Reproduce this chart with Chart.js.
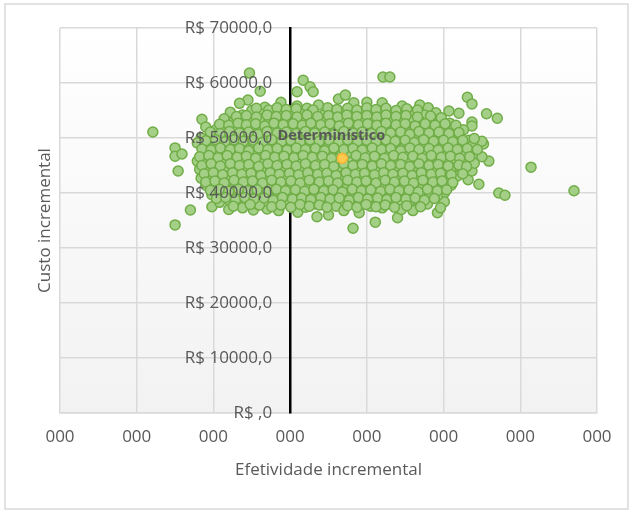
<!DOCTYPE html>
<html>
<head>
<meta charset="utf-8">
<script src="https://cdn.jsdelivr.net/npm/chart.js@4.4.1/dist/chart.umd.min.js"></script>
<style>
  html, body { margin: 0; padding: 0; background: #fff; }
  #wrap { width: 632px; height: 512px; }
</style>
</head>
<body>
<div id="wrap"><canvas id="icerChart" width="632" height="512"></canvas></div>
<script>
// Plano custo-efetividade: simulações (PSA) + resultado determinístico

const xTicks = [-3, -2, -1, 0, 1, 2, 3, 4];
const xTickLabel = '000';
const yTicks = [0, 10000, 20000, 30000, 40000, 50000, 60000, 70000];
const xTitle = 'Efetividade incremental';
const yTitle = 'Custo incremental';
const deterministicLabel = 'Determinístico';
const deterministicPoint = [0.68, 46300];

// pontos afastados da nuvem
const psaOutliers = [
  [-1.79,51100],[-1.50,48200],[-1.50,46700],[-1.41,47100],[-1.46,44000],[-1.21,45800],[-1.15,53400],
  [-1.50,34200],[-1.30,36900],[-1.02,37500],[-0.53,61800],[-0.39,58500],[-0.55,56900],[-0.78,54700],
  [0.09,58400],[0.17,60500],[0.26,59300],[0.30,58400],[1.21,61100],[1.30,61100],[2.31,57400],
  [2.37,56200],[2.07,54900],[2.20,54500],[2.56,54400],[2.70,53600],[2.37,52900],[2.37,52200],
  [2.52,48900],[2.59,45800],[3.14,44700],[3.70,40400],[2.72,40000],[2.80,39600],[2.46,41600],
  [2.32,42400],[2.37,44000],[2.10,44000],[2.01,40000],[2.01,38400],[1.92,36400],[1.96,37300],
  [0.82,33600],[1.40,35500],[1.11,34700],[-0.48,36900],[-0.30,37100]
];

// nuvem principal, lida faixa a faixa (de cima para baixo)
const psaCloud = [
  [-0.66,56300],[-0.33,55600],[-0.12,56500],[0.09,55800],[0.22,55400],[0.37,56000],[0.63,57100],
  [0.72,57800],[0.83,56400],[1.00,56500],[1.20,56400],[1.46,55800],[1.69,56000],[1.80,55500],

  [-0.62,54200],[-0.50,55000],[-0.36,54300],[-0.22,54800],[-0.12,54400],[0.02,54900],[0.15,54300],
  [0.28,54700],[0.44,54200],[0.55,55000],[0.68,54500],[0.80,54100],[0.93,54800],[1.07,54300],
  [1.18,54900],[1.32,54400],[1.45,54000],[1.58,54700],[1.75,54200],[1.90,54600],

  [-0.86,53500],[-0.74,52900],[-0.63,53600],[-0.51,53100],[-0.40,53500],[-0.27,52900],[-0.15,53400],
  [-0.04,53000],[0.09,53600],[0.21,53100],[0.33,53400],[0.46,52900],[0.58,53500],[0.70,53000],
  [0.82,53300],[0.95,52800],[1.07,53500],[1.19,53000],[1.31,53400],[1.44,52900],[1.56,53300],
  [1.69,53100],[1.82,52800],[1.95,53300],[2.08,52700],

  [-1.10,52000],[-0.97,51500],[-0.85,52100],[-0.72,51700],[-0.60,52200],[-0.48,51500],[-0.36,51900],
  [-0.23,51400],[-0.11,52000],[0.01,51600],[0.14,52100],[0.26,51500],[0.38,51900],[0.51,51400],
  [0.63,52000],[0.76,51600],[0.88,52100],[1.00,51500],[1.12,51900],[1.25,51400],[1.37,52000],
  [1.50,51600],[1.62,52100],[1.74,51500],[1.87,51900],[2.00,51400],[2.14,51800],[2.26,51500],

  [-1.16,50000],[-1.04,50600],[-0.91,50100],[-0.79,50500],[-0.67,49900],[-0.54,50400],[-0.42,50000],
  [-0.30,50600],[-0.17,50100],[-0.05,50500],[0.07,49900],[0.20,50400],[0.32,50000],[0.45,50600],
  [0.57,50100],[0.69,50500],[0.82,49900],[0.94,50300],[1.06,50700],[1.19,50100],[1.31,50500],
  [1.44,49900],[1.56,50300],[1.68,50700],[1.81,50100],[1.93,50400],[2.06,49900],[2.19,50300],
  [2.33,49600],

  [-1.21,49100],[-1.09,48600],[-0.97,49000],[-0.85,48400],[-0.72,48900],[-0.60,48500],[-0.48,49100],
  [-0.35,48600],[-0.23,49000],[-0.11,48400],[0.02,48900],[0.14,48500],[0.26,49100],[0.39,48600],
  [0.51,49000],[0.63,48400],[0.76,48900],[0.88,48500],[1.00,49100],[1.13,48600],[1.25,49000],
  [1.37,48400],[1.50,48800],[1.62,49200],[1.74,48600],[1.87,49000],[1.99,48400],[2.12,48800],
  [2.24,49100],[2.36,48500],[2.50,49400],

  [-1.08,47600],[-0.96,47100],[-0.81,47500],[-0.69,46900],[-0.57,47400],[-0.44,47000],[-0.32,47600],
  [-0.20,47100],[-0.07,47500],[0.05,46900],[0.17,47300],[0.30,47700],[0.42,47100],[0.54,47500],
  [0.67,46900],[0.79,47400],[0.91,47000],[1.04,47600],[1.16,47100],[1.28,47500],[1.41,46900],
  [1.53,47300],[1.65,47700],[1.78,47100],[1.90,47500],[2.03,46900],[2.15,47300],[2.28,47600],
  [2.40,47100],[2.50,46600],

  [-1.12,46100],[-1.00,45600],[-0.88,46200],[-0.75,45700],[-0.63,46100],[-0.51,45500],[-0.38,46000],
  [-0.26,45600],[-0.14,46200],[-0.01,45700],[0.11,46100],[0.23,45500],[0.36,46000],[0.48,45600],
  [0.60,46200],[0.80,45600],[0.92,46100],[1.04,45500],[1.17,46000],[1.29,45600],[1.41,46200],
  [1.54,45700],[1.66,46100],[1.78,45500],[1.91,46000],[2.03,45600],[2.15,46200],[2.27,45700],
  [2.40,45400],

  [-1.18,44300],[-1.06,44700],[-0.94,44200],[-0.82,44600],[-0.69,44000],[-0.57,44500],[-0.45,44100],
  [-0.32,44700],[-0.20,44200],[-0.08,44600],[0.05,44000],[0.17,44400],[0.29,44800],[0.42,44200],
  [0.54,44600],[0.66,44000],[0.79,44500],[0.91,44100],[1.03,44700],[1.16,44200],[1.28,44600],
  [1.40,44000],[1.53,44400],[1.65,44800],[1.77,44200],[1.90,44600],[2.00,44100],[2.22,44500],

  [-1.16,42700],[-1.04,43100],[-0.92,42600],[-0.79,43200],[-0.67,42700],[-0.55,43100],[-0.42,42500],
  [-0.30,43000],[-0.18,42600],[-0.05,43200],[0.07,42700],[0.19,43100],[0.32,42500],[0.44,43000],
  [0.56,42600],[0.69,43200],[0.81,42700],[0.93,43100],[1.06,42500],[1.18,43000],[1.30,42600],
  [1.43,43200],[1.55,42700],[1.67,43100],[1.80,42500],[1.92,43000],[2.05,42600],[2.18,43100],

  [-1.10,41400],[-0.98,41000],[-0.86,41500],[-0.73,40900],[-0.61,41400],[-0.49,41000],[-0.36,41600],
  [-0.24,41100],[-0.12,41500],[0.01,40900],[0.13,41300],[0.25,41700],[0.38,41100],[0.50,41500],
  [0.62,40900],[0.75,41400],[0.87,41000],[0.99,41600],[1.12,41100],[1.24,41500],[1.36,40900],
  [1.49,41300],[1.61,41700],[1.73,41100],[1.86,41500],[1.98,41000],[2.10,41400],

  [-1.02,39700],[-0.90,40100],[-0.77,39600],[-0.65,40200],[-0.53,39700],[-0.40,40100],[-0.28,39500],
  [-0.16,40000],[-0.03,39600],[0.09,40200],[0.21,39700],[0.34,40100],[0.46,39500],[0.58,40000],
  [0.71,39600],[0.83,40200],[0.95,39700],[1.08,40100],[1.20,39500],[1.32,40000],[1.45,39600],
  [1.57,40200],[1.69,39700],[1.82,40100],[1.92,39500],

  [-0.92,38300],[-0.80,38700],[-0.67,38200],[-0.55,38600],[-0.43,38000],[-0.30,38500],[-0.18,38100],
  [-0.06,38700],[0.07,38200],[0.19,38600],[0.31,38000],[0.44,38500],[0.56,38100],[0.68,38700],
  [0.81,38200],[0.93,38600],[1.05,38000],[1.18,38500],[1.30,38100],[1.42,38700],[1.55,38200],
  [1.67,38600],[1.79,38000],

  [-0.80,37000],[-0.62,37300],[-0.40,37800],[-0.15,36800],[0.10,36500],[0.20,37400],[0.35,35700],
  [0.50,36000],[0.60,37600],[0.70,36800],[0.90,36400],[1.05,37600],[1.20,37300],[1.45,37000],
  [1.60,36800]
];

// faixas intermediárias da nuvem (entre as faixas acima), onde os pontos se sobrepõem
const psaCloudDense = [
  [-0.44,55400],[-0.28,55100],[-0.17,55500],[-0.05,55200],[0.08,55300],[0.30,55100],[0.49,55500],
  [0.61,55200],[0.75,55400],[0.87,55100],[1.00,55500],[1.12,55200],[1.25,55400],[1.38,55000],
  [1.52,55300],[1.66,55100],

  [-0.70,53900],[-0.57,54100],[-0.44,53800],[-0.30,54200],[-0.18,53900],[-0.05,54100],[0.09,53800],
  [0.22,54200],[0.36,53900],[0.50,54100],[0.62,53800],[0.74,54200],[0.87,53900],[1.00,54100],
  [1.13,53800],[1.25,54200],[1.38,53900],[1.51,54100],[1.66,53800],[1.83,54000],[1.97,53700],

  [-0.92,52500],[-0.80,52300],[-0.68,52700],[-0.57,52400],[-0.45,52600],[-0.33,52200],[-0.21,52700],
  [-0.09,52400],[0.04,52600],[0.16,52300],[0.27,52700],[0.40,52400],[0.52,52600],[0.64,52200],
  [0.76,52700],[0.89,52400],[1.01,52600],[1.13,52300],[1.25,52700],[1.38,52400],[1.50,52600],
  [1.63,52200],[1.76,52600],[1.89,52300],[2.02,52600],[2.16,52300],

  [-1.04,51100],[-0.91,50800],[-0.79,51200],[-0.66,50900],[-0.54,51100],[-0.42,50700],[-0.30,51200],
  [-0.17,50900],[-0.05,51100],[0.08,50800],[0.20,51200],[0.32,50900],[0.45,51100],[0.57,50700],
  [0.70,51200],[0.82,50900],[0.94,51100],[1.06,50800],[1.19,51200],[1.31,50900],[1.44,51100],
  [1.56,50700],[1.68,51200],[1.81,50900],[1.94,51100],[2.07,50800],[2.20,51000],

  [-1.10,49500],[-0.97,49700],[-0.85,49300],[-0.73,49700],[-0.61,49400],[-0.48,49600],[-0.36,49200],
  [-0.24,49700],[-0.11,49400],[0.01,49600],[0.13,49300],[0.26,49700],[0.38,49400],[0.51,49600],
  [0.63,49200],[0.75,49700],[0.88,49400],[1.00,49600],[1.12,49300],[1.25,49700],[1.37,49400],
  [1.50,49600],[1.62,49200],[1.74,49700],[1.87,49400],[2.00,49600],[2.12,49300],[2.25,49600],
  [2.40,49900],

  [-1.15,48000],[-1.03,47800],[-0.91,48200],[-0.78,47900],[-0.66,48100],[-0.54,47700],[-0.41,48200],
  [-0.29,47900],[-0.17,48100],[-0.04,47800],[0.08,48200],[0.20,47900],[0.33,48100],[0.45,47700],
  [0.57,48200],[0.70,47900],[0.82,48100],[0.94,47800],[1.07,48200],[1.19,47900],[1.31,48100],
  [1.44,47700],[1.56,48200],[1.68,47900],[1.81,48100],[1.93,47800],[2.06,48200],[2.18,47900],
  [2.31,48100],[2.44,47900],

  [-1.18,46600],[-1.06,46800],[-0.94,46400],[-0.82,46800],[-0.69,46500],[-0.57,46700],[-0.45,46300],
  [-0.32,46800],[-0.20,46500],[-0.08,46700],[0.05,46400],[0.17,46800],[0.29,46500],[0.42,46700],
  [0.54,46300],[0.86,46800],[0.98,46400],[1.10,46700],[1.23,46300],[1.35,46800],[1.47,46500],
  [1.60,46700],[1.72,46300],[1.84,46800],[1.97,46500],[2.09,46700],[2.21,46300],[2.34,46600],

  [-1.15,45000],[-1.03,45300],[-0.91,44900],[-0.78,45300],[-0.66,45000],[-0.54,45200],[-0.41,44800],
  [-0.29,45300],[-0.17,45000],[-0.04,45200],[0.08,44900],[0.20,45300],[0.33,45000],[0.45,45200],
  [0.57,44800],[0.70,45300],[0.82,45000],[0.94,45200],[1.07,44900],[1.19,45300],[1.31,45000],
  [1.44,45200],[1.56,44800],[1.68,45300],[1.81,45000],[1.93,45200],[2.06,44900],[2.20,45100],
  [2.30,44800],

  [-1.12,43500],[-1.00,43700],[-0.88,43300],[-0.75,43700],[-0.63,43400],[-0.51,43600],[-0.38,43200],
  [-0.26,43700],[-0.14,43400],[-0.01,43600],[0.11,43300],[0.23,43700],[0.36,43400],[0.48,43600],
  [0.60,43200],[0.73,43700],[0.85,43400],[0.97,43600],[1.10,43300],[1.22,43700],[1.34,43400],
  [1.47,43600],[1.59,43200],[1.71,43700],[1.84,43400],[1.96,43600],[2.10,43300],[2.25,43500],

  [-1.10,42000],[-0.98,42200],[-0.86,41800],[-0.73,42300],[-0.61,42000],[-0.49,42200],[-0.36,41800],
  [-0.24,42300],[-0.12,42000],[0.01,42200],[0.13,41800],[0.25,42300],[0.38,42000],[0.50,42200],
  [0.62,41800],[0.75,42300],[0.87,42000],[0.99,42200],[1.12,41800],[1.24,42300],[1.36,42000],
  [1.49,42200],[1.61,41800],[1.73,42300],[1.86,42000],[1.98,42200],[2.12,41900],

  [-1.04,40500],[-0.92,40700],[-0.80,40300],[-0.67,40700],[-0.55,40400],[-0.43,40600],[-0.30,40200],
  [-0.18,40700],[-0.06,40400],[0.07,40600],[0.19,40300],[0.31,40700],[0.44,40400],[0.56,40600],
  [0.68,40200],[0.81,40700],[0.93,40400],[1.05,40600],[1.18,40300],[1.30,40700],[1.42,40400],
  [1.55,40600],[1.67,40200],[1.79,40700],[1.92,40400],[2.04,40600],

  [-0.96,39000],[-0.84,39200],[-0.71,38800],[-0.59,39200],[-0.47,38900],[-0.34,39100],[-0.22,38700],
  [-0.10,39200],[0.03,38900],[0.15,39100],[0.27,38800],[0.40,39200],[0.52,38900],[0.64,39100],
  [0.77,38700],[0.89,39200],[1.01,38900],[1.14,39100],[1.26,38800],[1.38,39200],[1.51,38900],
  [1.63,39100],[1.75,38700],[1.88,39000],

  [-0.74,37600],[-0.52,37900],[-0.24,37500],[-0.12,37800],[0.01,37400],[0.13,37900],[0.25,37600],
  [0.38,37800],[0.48,37400],[0.75,37700],[0.87,37400],[0.99,37900],[1.12,37500],[1.24,37800],
  [1.36,37400],[1.52,37700],[1.70,37500]
];

const textColor = '#595959';
const gridColor = '#d9d9d9';
const baseFont = "'Open Sans', sans-serif";

const toXY = p => ({ x: p[0], y: p[1] });
const yTickText = v => v === 0 ? 'R$ ,0' : 'R$ ' + v + ',0';

// fundo, moldura, rótulos do eixo Y, rótulo do ponto e títulos
const excelLook = {
  id: 'excelLook',
  beforeDraw(chart) {
    const { ctx, chartArea: a } = chart;
    ctx.save();
    ctx.fillStyle = '#ffffff';
    ctx.fillRect(0, 0, chart.width, chart.height);
    ctx.strokeStyle = gridColor;
    ctx.lineWidth = 1.5;
    ctx.strokeRect(5, 4, 623, 505);
    const g = ctx.createLinearGradient(0, a.top, 0, a.bottom);
    g.addColorStop(0, '#ffffff');
    g.addColorStop(1, '#f2f2f2');
    ctx.fillStyle = g;
    ctx.fillRect(a.left, a.top, a.right - a.left, a.bottom - a.top);
    ctx.restore();
  },
  afterDatasetsDraw(chart) {
    const { ctx, chartArea: a } = chart;
    const xs = chart.scales.x, ys = chart.scales.y;
    ctx.save();
    ctx.fillStyle = textColor;

    ctx.font = '17px ' + baseFont;
    ctx.textAlign = 'right';
    ctx.textBaseline = 'middle';
    const x0 = xs.getPixelForValue(0);
    yTicks.forEach(v => ctx.fillText(yTickText(v), x0 - 18, ys.getPixelForValue(v)));

    ctx.font = 'bold 14.5px ' + baseFont;
    ctx.textAlign = 'center';
    const px = xs.getPixelForValue(deterministicPoint[0]);
    const py = ys.getPixelForValue(deterministicPoint[1]);
    ctx.fillText(deterministicLabel, px - 11, py - 22);

    ctx.font = '17px ' + baseFont;
    ctx.fillText(xTitle, (a.left + a.right) / 2, 470);
    ctx.translate(45, (a.top + a.bottom) / 2);
    ctx.rotate(-Math.PI / 2);
    ctx.fillText(yTitle, 0, 0);
    ctx.restore();
  }
};

new Chart(document.getElementById('icerChart'), {
  type: 'scatter',
  data: {
    datasets: [
      {
        label: deterministicLabel,
        data: [toXY(deterministicPoint)],
        backgroundColor: '#ffc94d',
        borderColor: '#f5b335',
        borderWidth: 1.5,
        pointRadius: 5
      },
      {
        label: 'Simulações',
        data: psaOutliers.concat(psaCloud, psaCloudDense).map(toXY),
        backgroundColor: '#a4cf86',
        borderColor: '#70ad47',
        borderWidth: 1.5,
        pointRadius: 5
      }
    ]
  },
  options: {
    responsive: false,
    animation: false,
    layout: { padding: { left: 60, right: 35, top: 28, bottom: 39 } },
    plugins: {
      legend: { display: false },
      tooltip: { enabled: false }
    },
    scales: {
      x: {
        type: 'linear',
        min: xTicks[0],
        max: xTicks[xTicks.length - 1],
        afterBuildTicks: s => { s.ticks = xTicks.map(v => ({ value: v })); },
        afterFit: s => { s.height = 60; },
        ticks: {
          callback: () => xTickLabel,
          color: textColor,
          font: { family: baseFont, size: 17 },
          padding: 14,
          maxRotation: 0,
          autoSkip: false
        },
        grid: { color: gridColor, lineWidth: 1.5, drawTicks: false },
        border: { color: gridColor, width: 1.5 }
      },
      y: {
        type: 'linear',
        position: { x: 0 },
        min: yTicks[0],
        max: yTicks[yTicks.length - 1],
        afterBuildTicks: s => { s.ticks = yTicks.map(v => ({ value: v })); },
        ticks: { display: false },
        grid: { color: gridColor, lineWidth: 1.5, drawTicks: false },
        border: { color: '#000000', width: 2.5 }
      }
    }
  },
  plugins: [excelLook]
});
</script>
</body>
</html>
